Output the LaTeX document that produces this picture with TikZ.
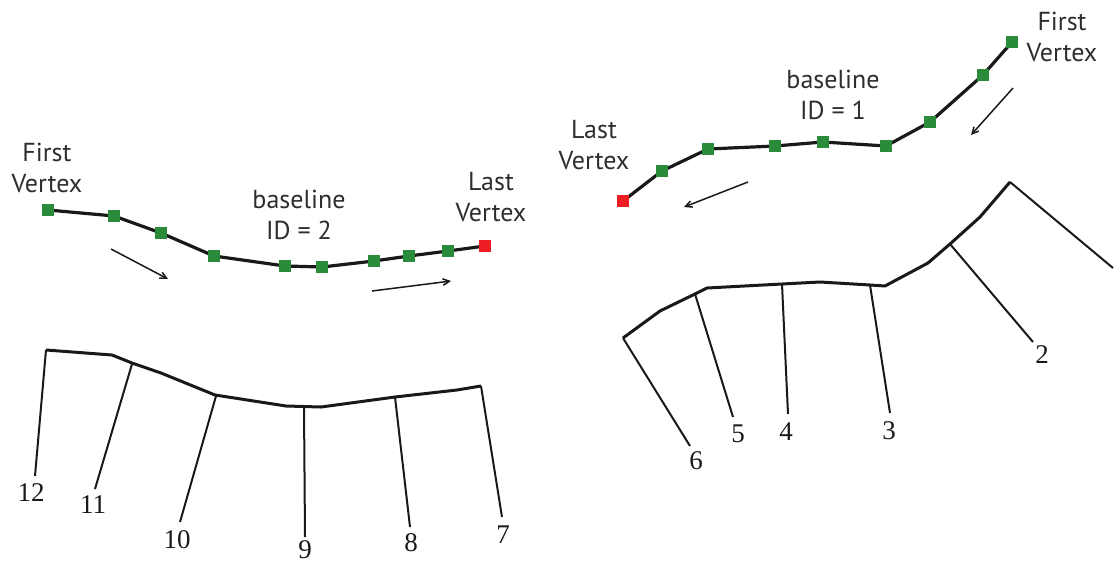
\documentclass[tikz,border=0pt]{standalone}
\usepackage{fontspec}
\setmainfont{Liberation Serif}
\newfontfamily\labfont{PT Sans}
\usetikzlibrary{arrows.meta}
\definecolor{vgreen}{HTML}{2A8C3A}
\definecolor{vred}{HTML}{EE1D23}
\begin{document}
\begin{tikzpicture}[x=1pt,y=-1pt,
  vtx/.style={fill=vgreen,draw=none,minimum size=11.5pt,inner sep=0pt,rectangle},
  lastvtx/.style={vtx,fill=vred},
  base/.style={line width=3.2pt,line join=round,black!90},
  tree/.style={line width=3pt,line join=round,black!90},
  branch/.style={line width=2pt,black!90},
  dirarrow/.style={line width=1.5pt,black!90,-{Straight Barb[length=6.5pt,width=6.5pt]}},
  lab/.style={font=\labfont\fontsize{26}{31}\selectfont,align=center,text=black!82,inner sep=0pt},
  num/.style={font=\fontsize{27}{30}\selectfont,inner sep=0pt,text=black!90}]
\useasboundingbox (0,0) rectangle (1114,563);

% ---------- left top baseline (ID = 2) ----------
\coordinate (a1) at (48,210);
\coordinate (a2) at (114,216);
\coordinate (a3) at (161,233);
\coordinate (a4) at (214,256);
\coordinate (a5) at (285,266);
\coordinate (a6) at (322,267);
\coordinate (a7) at (374,261);
\coordinate (a8) at (409,256);
\coordinate (a9) at (448,251);
\coordinate (a10) at (485,246);
\draw[base] (a1) -- (a2) -- (a3) -- (a4) -- (a5) -- (a6) -- (a7) -- (a8) -- (a9) -- (a10);
\foreach \i in {1,...,9} \node[vtx] (sa\i) at (a\i) {};
\node[lastvtx] (sa10) at (a10) {};
\coordinate (ar1s) at (111,249); \coordinate (ar1e) at (168,279);
\coordinate (ar2s) at (372,291); \coordinate (ar2e) at (451,281);
\draw[dirarrow] (ar1s) -- (ar1e);
\draw[dirarrow] (ar2s) -- (ar2e);
\node[lab] (lfirst) at (47,168) {First\\Vertex};
\node[lab] (lbase) at (299,215) {baseline\\ID = 2};
\node[lab] (llast) at (491,197) {Last\\Vertex};

% ---------- right top baseline (ID = 1) ----------
\coordinate (b1) at (1012,42);
\coordinate (b2) at (983,75);
\coordinate (b3) at (930,122);
\coordinate (b4) at (886,146);
\coordinate (b5) at (823,142);
\coordinate (b6) at (775,146);
\coordinate (b7) at (708,149);
\coordinate (b8) at (662,171);
\coordinate (b9) at (623,201);
\draw[base] (b1) -- (b2) -- (b3) -- (b4) -- (b5) -- (b6) -- (b7) -- (b8) -- (b9);
\foreach \i in {1,...,8} \node[vtx] (sb\i) at (b\i) {};
\node[lastvtx] (sb9) at (b9) {};
\coordinate (ar3s) at (1013,88); \coordinate (ar3e) at (971,135);
\coordinate (ar4s) at (748,182); \coordinate (ar4e) at (684,207);
\draw[dirarrow] (ar3s) -- (ar3e);
\draw[dirarrow] (ar4s) -- (ar4e);
\node[lab] (rfirst) at (1062,37) {First\\Vertex};
\node[lab] (rbase) at (833,95) {baseline\\ID = 1};
\node[lab] (rlast) at (594,145) {Last\\Vertex};

% ---------- bottom left tree ----------
\coordinate (c1) at (46,350);
\coordinate (c2) at (112,355);
\coordinate (c3) at (132,363);
\coordinate (c4) at (161,373);
\coordinate (c5) at (215,395);
\coordinate (c6) at (286,406);
\coordinate (c7) at (321,407);
\coordinate (c8) at (395,397);
\coordinate (c9) at (457,390);
\coordinate (c10) at (481,386);
\draw[tree] (c1) -- (c2) -- (c3) -- (c4) -- (c5) -- (c6) -- (c7) -- (c8) -- (c9) -- (c10);
\coordinate (e12) at (35,476);
\coordinate (e11) at (95,489);
\coordinate (e10) at (180,522);
\coordinate (e9) at (305,537);
\coordinate (e8) at (410,527);
\coordinate (e7) at (502,517);
\coordinate (f11) at (132,364);
\coordinate (f10) at (216,396);
\coordinate (f9) at (304,407);
\coordinate (f8) at (395,397);
\draw[branch] (c1) -- (e12);
\draw[branch] (f11) -- (e11);
\draw[branch] (f10) -- (e10);
\draw[branch] (f9) -- (e9);
\draw[branch] (f8) -- (e8);
\draw[branch] (c10) -- (e7);
\node[num] (n12) at (31,493) {12};
\node[num] (n11) at (93,505) {11};
\node[num] (n10) at (177,540) {10};
\node[num] (n9) at (305,550) {9};
\node[num] (n8) at (411,543) {8};
\node[num] (n7) at (503,535) {7};

% ---------- bottom right tree ----------
\coordinate (d1) at (623,338);
\coordinate (d2) at (660,311);
\coordinate (d3) at (695,294);
\coordinate (d4) at (707,288);
\coordinate (d5) at (782,284);
\coordinate (d6) at (820,282);
\coordinate (d7) at (870,285);
\coordinate (d8) at (885,286);
\coordinate (d9) at (928,263);
\coordinate (d10) at (950,244);
\coordinate (d11) at (980,217);
\coordinate (d12) at (1010,182);
\draw[tree] (d1) -- (d2) -- (d3) -- (d4) -- (d5) -- (d6) -- (d7) -- (d8) -- (d9) -- (d10) -- (d11) -- (d12);
\coordinate (g1) at (1113,268);
\coordinate (g2) at (1033,342);
\coordinate (g3) at (890,413);
\coordinate (g4) at (788,414);
\coordinate (g5) at (733,417);
\coordinate (g6) at (690,446);
\draw[branch] (d12) -- (g1);
\draw[branch] (d10) -- (g2);
\draw[branch] (d7) -- (g3);
\draw[branch] (d5) -- (g4);
\draw[branch] (d3) -- (g5);
\draw[branch] (d1) -- (g6);
\node[num] (n1) at (1120,279) {1};
\node[num] (n2) at (1042,355) {2};
\node[num] (n3) at (889,431) {3};
\node[num] (n4) at (786,432) {4};
\node[num] (n5) at (738,434) {5};
\node[num] (n6) at (696,461) {6};
\end{tikzpicture}
\end{document}
